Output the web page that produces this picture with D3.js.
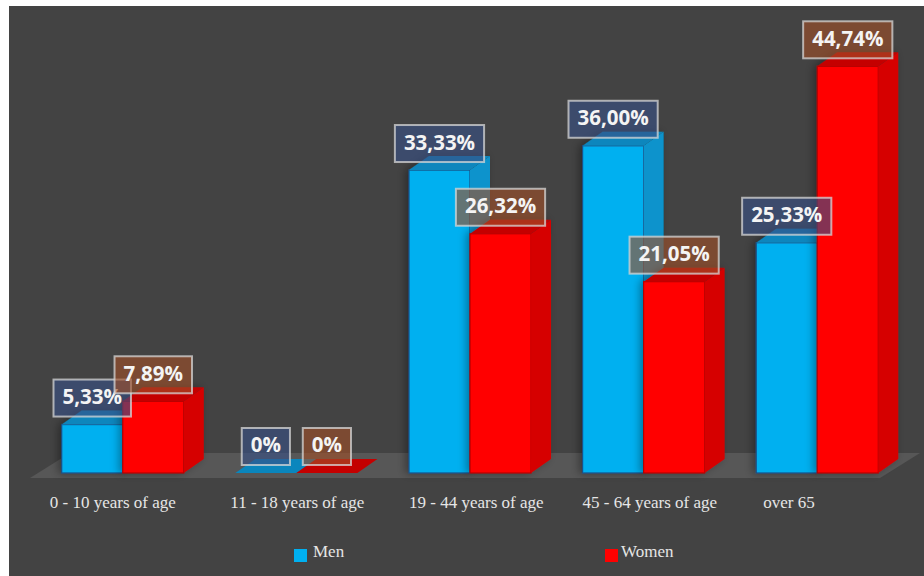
<!DOCTYPE html>
<html>
<head>
<meta charset="utf-8">
<script src="https://cdn.jsdelivr.net/npm/d3@7"></script>
<style>
  html, body { margin: 0; padding: 0; background: #ffffff; }
  svg { display: block; }
</style>
</head>
<body>
<svg id="chart" width="924" height="576"></svg>
<script>
// Share of each age group, by sex (percent)
const categories = ["0 - 10 years of age", "11 - 18 years of age", "19 - 44 years of age", "45 - 64 years of age", "over 65"];
const seriesNames = ["Men", "Women"];
const men = [5.33, 0, 33.33, 36.00, 25.33];
const women = [7.89, 0, 26.32, 21.05, 44.74];
const menLabels = ["5,33%", "0%", "33,33%", "36,00%", "25,33%"];
const womenLabels = ["7,89%", "0%", "26,32%", "21,05%", "44,74%"];

const W = 924, H = 576;
const svg = d3.select("#chart");

// page background with the thin white margin at top/left
svg.append("rect").attr("width", W).attr("height", H).attr("fill", "#ffffff");
svg.append("rect").attr("x", 9).attr("y", 6).attr("width", W - 9).attr("height", H - 6).attr("fill", "#434343");

const defs = svg.append("defs");
const sh = defs.append("filter").attr("id", "shadow").attr("x", "-30%").attr("y", "-10%").attr("width", "160%").attr("height", "120%");
sh.append("feDropShadow").attr("dx", -3).attr("dy", 0).attr("stdDeviation", 4)
  .attr("flood-color", "#000").attr("flood-opacity", 0.35);

const x = d3.scaleBand().domain(categories).range([27, 913]).paddingInner(0.297).paddingOuter(0.2);
const xs = d3.scaleBand().domain(seriesNames).range([0, x.bandwidth()]).padding(0);
const base = 473;
const y = d3.scaleLinear().domain([0, 50]).range([base, 18.5]);

// depth of the 3D extrusion
const dX = 20, dY = -14;

// floor
svg.append("polygon")
  .attr("points", [[30, 478], [880, 478], [920, 453], [70, 453]].map(p => p.join(",")).join(" "))
  .attr("fill", "#575757");

const styles = {
  Men:   { front: "#00b0f0", top: "#0a86bd", side: "#0a93cc", stroke: "#1b4f86",
           box: "rgba(57,80,134,0.62)" },
  Women: { front: "#ff0000", top: "#c40000", side: "#d60000", stroke: "#b40000",
           box: "rgba(159,79,40,0.62)" }
};

const rows = categories.map((c, i) => ({ c, Men: men[i], Women: women[i], mL: menLabels[i], wL: womenLabels[i] }));

const barsG = svg.append("g");

function drawBar(g, x0, w, v, st) {
  const yt = y(v);
  const grp = g.append("g").attr("filter", v > 0 ? "url(#shadow)" : null);
  if (v > 0) {
    grp.append("rect").attr("x", x0).attr("y", yt).attr("width", w).attr("height", base - yt)
      .attr("fill", st.front).attr("stroke", st.stroke).attr("stroke-width", 1.2);
    grp.append("polygon")
      .attr("points", [[x0 + w, yt], [x0 + w + dX, yt + dY], [x0 + w + dX, base + dY], [x0 + w, base]].map(p => p.join(",")).join(" "))
      .attr("fill", st.side);
  }
  grp.append("polygon")
    .attr("points", [[x0, yt], [x0 + dX, yt + dY], [x0 + w + dX, yt + dY], [x0 + w, yt]].map(p => p.join(",")).join(" "))
    .attr("fill", st.top);
}

rows.forEach(r => {
  seriesNames.forEach(s => {
    drawBar(barsG, x(r.c) + xs(s), xs.bandwidth(), r[s], styles[s]);
  });
});

// value labels in translucent boxes
const labG = svg.append("g");
function drawLabel(cx, v, txt, st) {
  const g = labG.append("g");
  const t = g.append("text")
    .attr("x", cx).attr("y", y(v) - 26)
    .attr("text-anchor", "middle").attr("dominant-baseline", "middle")
    .attr("font-family", "'Open Sans', sans-serif").attr("font-weight", 700)
    .attr("font-size", 20.5).attr("fill", "#f4f4f4")
    .text(txt);
  const bb = t.node().getBBox();
  const bw = bb.width + 18, bh = 37;
  g.insert("rect", "text")
    .attr("x", cx - bw / 2).attr("y", y(v) - 8 - bh)
    .attr("width", bw).attr("height", bh)
    .attr("fill", st.box).attr("stroke", "rgba(215,215,215,0.75)").attr("stroke-width", 2);
}
rows.forEach(r => {
  drawLabel(x(r.c) + xs("Men") + xs.bandwidth() / 2, r.Men, r.mL, styles.Men);
});
rows.forEach(r => {
  drawLabel(x(r.c) + xs("Women") + xs.bandwidth() / 2, r.Women, r.wL, styles.Women);
});

// category labels
const nudge = [-12, -5, 0, 0, 7];
svg.append("g").selectAll("text").data(categories).join("text")
  .attr("x", (d, i) => x(d) + nudge[i])
  .attr("y", 508)
  .attr("font-family", "'Liberation Serif', 'DejaVu Serif', serif")
  .attr("font-size", 17).attr("fill", "#e6e6e6")
  .text(d => d);

// legend
const legendPos = { Men: 294, Women: 605 };
const lg = svg.append("g");
seriesNames.forEach(s => {
  lg.append("rect").attr("x", legendPos[s]).attr("y", 549).attr("width", 13).attr("height", 13)
    .attr("fill", styles[s].front);
  lg.append("text").attr("x", legendPos[s] + (s === "Men" ? 19 : 16)).attr("y", 557)
    .attr("font-family", "'Liberation Serif', 'DejaVu Serif', serif")
    .attr("font-size", 17).attr("fill", "#e6e6e6").text(s);
});
</script>
</body>
</html>
